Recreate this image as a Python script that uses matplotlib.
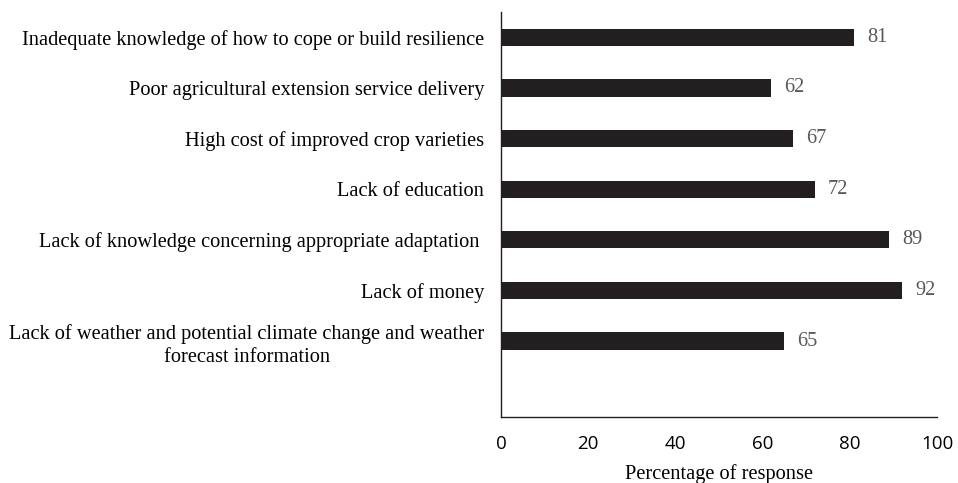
import matplotlib.pyplot as plt

categories = [
    "Inadequate knowledge of how to cope or build resilience",
    "Poor agricultural extension service delivery",
    "High cost of improved crop varieties",
    "Lack of education",
    "Lack of knowledge concerning appropriate adaptation ",
    "Lack of money",
    "Lack of weather and potential climate change and weather\nforecast information",
]
values = [81, 62, 67, 72, 89, 92, 65]
xticks = [0, 20, 40, 60, 80, 100]

fig = plt.figure(figsize=(9.58, 4.83), dpi=100)
ax = fig.add_axes([501 / 958, 1 - 417 / 483, 436 / 958, 405 / 483])

pos = list(range(len(categories)))
ax.barh(pos, values, height=0.34, color="#231f20")

for p, v in zip(pos, values):
    ax.text(v + 3.0, p, str(v), va="center", ha="left",
            family="Liberation Serif", fontsize=14.7, color="#595959")

ax.set_yticks(pos)
ax.set_yticklabels(categories, family="Liberation Serif", fontsize=14.7,
                   multialignment="center", linespacing=1.25)
ax.set_ylim(7.5, -0.5)
ax.set_xlim(0, 100)
ax.set_xticks(xticks)
ax.set_xticklabels([str(t) for t in xticks], family="Open Sans", fontsize=13.5)
ax.tick_params(axis="both", length=0)
ax.tick_params(axis="x", pad=13)
ax.tick_params(axis="y", pad=12)

for s in ["top", "right"]:
    ax.spines[s].set_visible(False)
for s in ["left", "bottom"]:
    ax.spines[s].set_color("#231f20")
    ax.spines[s].set_linewidth(1.0)

ax.set_xlabel("Percentage of response", family="Liberation Serif",
              fontsize=14.7, labelpad=8)

fig.savefig("out.png", dpi=100)
